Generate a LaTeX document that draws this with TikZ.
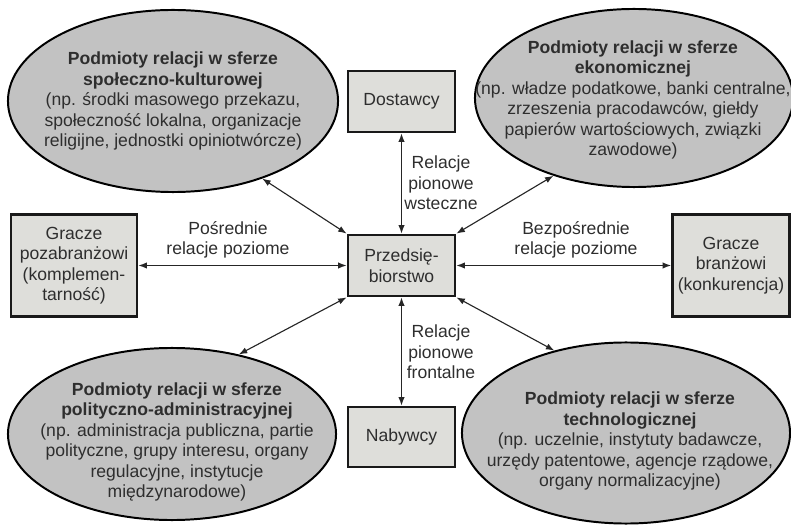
\documentclass[tikz,border=0pt]{standalone}
\usepackage{fontspec}
\setmainfont{Liberation Sans}
\usetikzlibrary{shapes.geometric,arrows.meta}
\definecolor{txt}{HTML}{2E2E2E}
\definecolor{ellfill}{HTML}{C2C2C2}
\definecolor{boxfill}{HTML}{DEDEDA}
\begin{document}
\begin{tikzpicture}[x=0.025cm,y=-0.025cm,
  every node/.style={font=\fontsize{12.5}{14.6}\selectfont, text=txt},
  ell/.style={ellipse, draw=black, line width=1.4pt, fill=ellfill, inner sep=0pt},
  bx/.style={rectangle, draw=black!90, line width=2pt, fill=boxfill, align=center, inner sep=0pt},
  lbl/.style={align=center, inner sep=0pt},
  rel/.style={{Latex[length=6pt,width=4.5pt]}-{Latex[length=6pt,width=4.5pt]}, line width=0.8pt, draw=black!85}
]
\useasboundingbox (0,0) rectangle (791,525);

% ellipses
\node[ell, minimum width=8.25cm, minimum height=4.55cm] (tl) at (173,101) {};
\node[lbl] (tlt) at (173,101) {\textbf{Podmioty relacji w sferze}\\\textbf{społeczno-kulturowej}\\(np. środki masowego przekazu,\\społeczność lokalna, organizacje\\religijne, jednostki opiniotwórcze)};

\node[ell, minimum width=7.95cm, minimum height=4.45cm] (tr) at (634,98) {};
\node[lbl] (trt) at (633,100) {\textbf{Podmioty relacji w sferze}\\\textbf{ekonomicznej}\\(np. władze podatkowe, banki centralne,\\zrzeszenia pracodawców, giełdy\\papierów wartościowych, związki\\zawodowe)};

\node[ell, minimum width=8.2cm, minimum height=4.3cm] (bl) at (172,434) {};
\node[lbl] (blt) at (177,442) {\textbf{Podmioty relacji w sferze}\\\textbf{polityczno-administracyjnej}\\(np. administracja publiczna, partie\\polityczne, grupy interesu, organy\\regulacyjne, instytucje\\międzynarodowe)};

\node[ell, minimum width=8.2cm, minimum height=4.525cm] (br) at (626,433) {};
\node[lbl] (brt) at (630,441) {\textbf{Podmioty relacji w sferze}\\\textbf{technologicznej}\\(np. uczelnie, instytuty badawcze,\\urzędy patentowe, agencje rządowe,\\organy normalizacyjne)};

% boxes
\node[bx, minimum width=2.675cm, minimum height=1.525cm] (dos) at (401.5,101.5) {Dostawcy};
\node[bx, minimum width=2.675cm, minimum height=1.525cm] (prz) at (401.5,265.5) {Przedsię-\\biorstwo};
\node[bx, minimum width=2.675cm, minimum height=1.5cm] (nab) at (401.5,437) {Nabywcy};
\node[bx, minimum width=3.15cm, minimum height=2.55cm] (gpz) at (74,265.5) {Gracze\\pozabranżowi\\(komplemen-\\tarność)};
\node[bx, minimum width=2.925cm, minimum height=2.55cm] (gbr) at (731,265.5) {Gracze\\branżowi\\(konkurencja)};

% connectors
\draw[rel] (dos) -- (prz);
\draw[rel] (prz) -- (nab);
\draw[rel] (gpz) -- (prz);
\draw[rel] (prz) -- (gbr);
\draw[rel] (prz.north west) -- (tl.-41);
\draw[rel] (prz.north east) -- (tr.-136);
\draw[rel] (prz.south west) -- (bl.50);
\draw[rel] (prz.south east) -- (br.131);

% labels
\node[lbl] (l1) at (228,240) {Pośrednie\\relacje poziome};
\node[lbl] (l2) at (576,240) {Bezpośrednie\\relacje poziome};
\node[lbl] (l3) at (441,183) {Relacje\\pionowe\\wsteczne};
\node[lbl] (l4) at (441,352) {Relacje\\pionowe\\frontalne};
\end{tikzpicture}
\end{document}
